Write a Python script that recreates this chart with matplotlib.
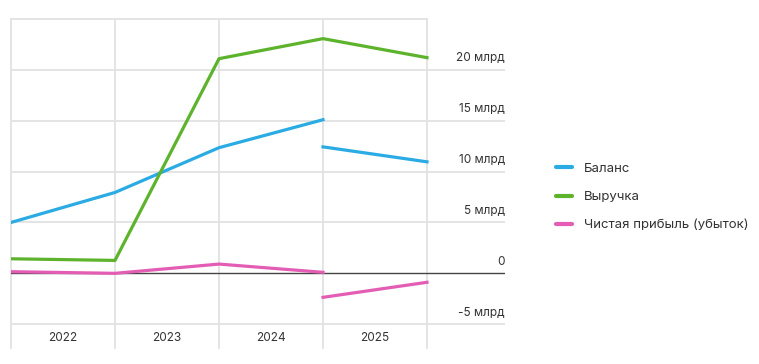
import matplotlib
matplotlib.use("Agg")
import matplotlib.pyplot as plt
import numpy as np

plt.rcParams['font.family'] = ['Inter', 'DejaVu Sans']

years = ["2022", "2023", "2024", "2025"]
yticks = [-5, 0, 5, 10, 15, 20]
ytick_labels = ["-5 млрд", "0", "5 млрд", "10 млрд", "15 млрд", "20 млрд"]

# values in billions at the five period boundaries
balance = [5.0, 7.95, 12.35, 15.1, np.nan]
balance_2 = [np.nan, np.nan, np.nan, 12.43, 10.96]
revenue = [1.43, 1.27, 21.1, 23.07, 21.2]
profit = [0.16, 0.0, 0.91, 0.1, np.nan]
profit_2 = [np.nan, np.nan, np.nan, -2.36, -0.88]

c_blue = "#2AABE3"
c_green = "#5DB32B"
c_pink = "#E35DB5"
grid_c = "#E4E4E4"
text_c = "#333333"

W, H = 759, 364
fig = plt.figure(figsize=(W / 100, H / 100), dpi=100)
ax = fig.add_axes([11 / W, (H - 348) / H, (505 - 11) / W, (348 - 19) / H])
ax.set_xlim(0, 4.75)
ax.set_ylim(-7.34, 25)
ax.axis("off")

x = np.arange(5)
# grid
for v in yticks:
    if v == 0:
        continue
    ax.plot([0, 4.75], [v, v], color=grid_c, lw=1.4, zorder=1, solid_capstyle="butt")
ax.plot([0, 4], [25, 25], color=grid_c, lw=1.4, zorder=1, clip_on=False)
for xi in x:
    ax.plot([xi, xi], [-7.34, 25], color=grid_c, lw=1.4, zorder=1, clip_on=False)
ax.plot([0, 4.75], [0, 0], color="#444444", lw=1.0, zorder=2)

lw = 2.3
l1, = ax.plot(x, balance, color=c_blue, lw=lw, zorder=3, label="Баланс")
ax.plot(x, balance_2, color=c_blue, lw=lw, zorder=3)
l2, = ax.plot(x, revenue, color=c_green, lw=lw, zorder=3, label="Выручка")
l3, = ax.plot(x, profit, color=c_pink, lw=lw, zorder=3, label="Чистая прибыль (убыток)")
ax.plot(x, profit_2, color=c_pink, lw=lw, zorder=3)

for v, lab in zip(yticks, ytick_labels):
    ax.annotate(lab, xy=(4.75, v), xytext=(0, 4), textcoords="offset points",
                ha="right", va="bottom", fontsize=8.5, color=text_c)

for i, yr in enumerate(years):
    ax.annotate(yr, xy=(i + 0.5, -7.34), xytext=(0, 7), textcoords="offset points",
                ha="center", va="center", fontsize=8.5, color=text_c)

from matplotlib.lines import Line2D
handles = [Line2D([0], [0], color=c, lw=3, solid_capstyle="round") for c in (c_blue, c_green, c_pink)]
fig.legend(handles, [l1.get_label(), l2.get_label(), l3.get_label()],
           loc="center left", bbox_to_anchor=(556 / W, 1 - 197 / H), frameon=False,
           fontsize=9.5, handlelength=1.2, handletextpad=0.95, labelspacing=1.2,
           borderpad=0, borderaxespad=0, labelcolor=text_c)

fig.savefig("out.png", dpi=100, facecolor="white")
